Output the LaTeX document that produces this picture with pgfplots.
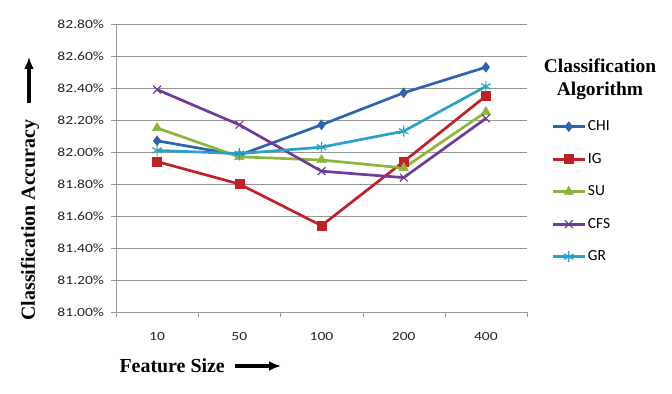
\documentclass[border=0pt]{standalone}
\usepackage{pgfplots}
\pgfplotsset{compat=1.18}
\usetikzlibrary{arrows.meta}
\usepackage{fontspec}
\setmainfont{Liberation Serif}
\newfontfamily\carlito{Carlito}
\definecolor{chi}{RGB}{46,100,172}
\definecolor{ig}{RGB}{192,32,38}
\definecolor{su}{RGB}{140,182,58}
\definecolor{cfs}{RGB}{112,58,152}
\definecolor{gr}{RGB}{40,162,200}
\definecolor{gridc}{RGB}{150,150,150}
\begin{document}
\begin{tikzpicture}
\path[use as bounding box] (0,0) rectangle (672bp,394bp);
\begin{axis}[
  at={(116bp,82bp)}, anchor=south west,
  scale only axis, width=411bp, height=288bp,
  xmin=-0.5, xmax=4.5, ymin=81.0, ymax=82.8,
  xtick={0,1,2,3,4}, xticklabels={10,50,100,200,400},
  minor xtick={-0.5,0.5,1.5,2.5,3.5,4.5},
  major x tick style={draw=none},
  minor x tick style={gridc},
  minor tick length=5bp,
  ytick={81.0,81.2,...,82.81},
  yticklabel={\pgfmathprintnumber[fixed,fixed zerofill,precision=2]{\tick}\%},
  /pgf/number format/assume math mode=true,
  tick align=outside, major tick length=5bp,
  y tick style={gridc},
  ymajorgrids, grid style={gridc, line width=0.9pt},
  axis x line*=bottom, axis y line*=left,
  axis line style={gridc, line width=0.9pt},
  tick label style={font=\carlito\fontsize{12.5}{14}\selectfont, text=black!85, xscale=1.25},
  xticklabel style={yshift=-12bp},
  yticklabel style={xshift=-2bp},
  x axis line style={-}, y axis line style={-},
  every axis plot/.append style={line width=2.7pt},
  legend style={at={(1.052,0.678)}, anchor=north west, draw=none, fill=none,
    font=\carlito\fontsize{15.5}{17}\selectfont, row sep=17bp,
    /tikz/every even column/.append style={column sep=2bp}},
  legend cell align=left,
  legend image code/.code={\draw[mark repeat=2,mark phase=2] plot coordinates {(0cm,0cm) (0.56cm,0cm) (1.12cm,0cm)};},
]
\addplot[chi, mark=diamond*, mark size=5pt, mark options={solid,line width=0.5pt}] coordinates {(0,82.07) (1,81.98) (2,82.17) (3,82.37) (4,82.53)};
\addlegendentry{CHI}
\addplot[ig, mark=square*, mark size=4.5pt, mark options={solid,line width=0.5pt}] coordinates {(0,81.94) (1,81.80) (2,81.54) (3,81.94) (4,82.35)};
\addlegendentry{IG}
\addplot[su, mark=triangle*, mark size=5.5pt, mark options={solid,line width=0.5pt}] coordinates {(0,82.15) (1,81.97) (2,81.95) (3,81.90) (4,82.25)};
\addlegendentry{SU}
\addplot[cfs, mark=x, mark size=5.5pt, mark options={solid,line width=1.2pt}] coordinates {(0,82.39) (1,82.17) (2,81.88) (3,81.84) (4,82.21)};
\addlegendentry{CFS}
\addplot[gr, mark=asterisk, mark size=5.5pt, mark options={solid,line width=1.2pt}] coordinates {(0,82.01) (1,81.99) (2,82.03) (3,82.13) (4,82.41)};
\addlegendentry{GR}
\end{axis}
\node[rotate=90, font=\bfseries\fontsize{20}{22}\selectfont, anchor=center] at (30bp,174bp) {Classification Accuracy};
\draw[line width=3.2bp, -{Latex[length=12bp,width=10bp]}] (29bp,291bp) -- (29bp,337bp);
\node[font=\bfseries\fontsize{20}{22}\selectfont, anchor=west] at (116bp,28bp) {Feature Size};
\draw[line width=3.2bp, -{Latex[length=12bp,width=10bp]}] (235bp,28bp) -- (281bp,28bp);
\node[font=\bfseries\fontsize{19.5}{23}\selectfont, align=center, anchor=north] at (600bp,339bp) {Classification\\Algorithm};
\end{tikzpicture}
\end{document}
